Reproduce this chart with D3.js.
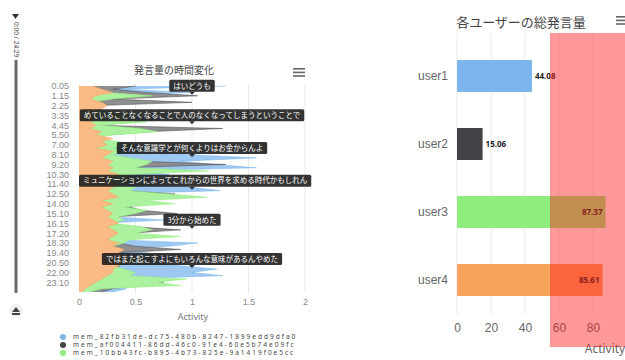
<!DOCTYPE html>
<html>
<head>
<meta charset="utf-8">
<script src="https://cdn.jsdelivr.net/npm/d3@7"></script>
<style>
  body { margin: 0; background: #fff; }
  svg { display: block; font-family: "Noto Sans", "Noto Sans CJK JP", sans-serif; }
</style>
</head>
<body>
<div id="chart"></div>
<script>
// ---- data ----
var timeTicks = ["0.05","1.15","2.25","3.35","4.45","5.50","7.00","8.10","9.20","10.30","11.40",
                 "12.50","14.00","15.10","16.15","17.20","18.30","19.40","20.50","22.00","23.10"];

// activity per user, three samples per tick label
var user1Act = [1.3,0.4,1.0,0.2,0.1,0.05,0.1,0.0,0.2,0.3, 0.8,0.3,0.1,0.2,0.1,0.05,0.05,0.1,0.4,0.9,
                0.6,1.0,1.57,0.9,1.2,1.57,0.4,0.8,0.5,0.9, 0.6,1.0,1.25,0.3,0.2,0.1,0.1,0.05,0.1,0.05,
                0.3,0.75,0.2,0.1,0.1,0.05,0.1,0.3,1.05,0.8, 0.3,0.6,0.7,0.9,0.6,0.9,1.22,1.0,1.27,0.4,
                0.3,0.2,0.42,0.3];
var user2Act = [0.5,0.3,0.6,1.05,0.3,1.0,0.15,0.05,0.3,0.45, 0.3,0.5,0.15,1.27,0.6,0.25,0.1,0.3,0.45,0.25,
                0.35,0.25,0.4,0.55,1.3,0.4,0.8,0.4,0.35,0.5, 0.25,0.45,0.4,0.85,0.6,0.5,0.5,0.45,0.55,0.87,
                0.3,0.35,0.25,0.45,0.9,0.45,0.5,0.4,0.35,0.5, 0.9,0.35,0.35,0.45,0.4,0.35,0.35,0.45,0.4,0.6,
                0.75,0.5,0.3,0.2];
var user3Act = [0.1,0.15,0.25,0.65,0.3,0.1,0.1,0.05,0.3,0.5, 0.35,0.6,0.2,0.55,0.7,0.3,0.1,0.35,0.5,0.3,
                0.4,0.3,0.45,0.65,0.6,0.5,1.15,0.5,0.4,0.55, 0.3,0.5,0.45,0.8,1.13,0.6,0.85,0.4,0.6,0.5,
                0.35,0.4,0.3,0.55,0.65,0.5,0.9,0.45,0.4,0.3, 0.2,0.3,0.4,0.5,0.45,0.3,0.4,0.5,0.45,0.95,
                0.7,0.9,0.2,0.1];
var user4Act = [0.12,0.2,0.3,0.15,0.1,0.2,0.25,0.2,0.15,0.1, 0.15,0.1,0.15,0.1,0.2,0.15,0.3,0.2,0.25,0.15,
                0.3,0.25,0.2,0.3,0.25,0.3,0.25,0.35,0.3,0.25, 0.35,0.3,0.25,0.3,0.35,0.2,0.3,0.2,0.25,0.3,
                0.25,0.3,0.35,0.25,0.3,0.35,0.3,0.25,0.35,0.3, 0.4,0.35,0.4,0.35,0.4,0.35,0.3,0.3,0.25,0.2,
                0.15,0.1,0.05,0.03];

var seriesNames = ["mem_82fb31de-dc75-480b-8247-1899edd9dfa0",
                   "mem_af004411-86dd-46c0-91e4-60e5b74e09fc",
                   "mem_10bb43fc-b895-4b73-825e-9a1419f0e5cc"];
var seriesColors = ["#7cb5ec", "#434348", "#90ed7d", "#f7a35c"];

// speech bubbles pinned at activity 1
var noteIndex = [3, 12, 22, 32, 44, 56];
var noteText = ["はいどうも",
                "めていることなくなることで人のなくなってしまうということで",
                "そんな意識学とが何くよりはお金からんよ",
                "ミュニケーションによってこれからの世界を求める時代かもしれん",
                "3分から始めた",
                "ではまた起こすよにもいろんな意味があるんやめた"];

var users = ["user1", "user2", "user3", "user4"];
var totals = [44.08, 15.06, 87.37, 85.61];
var totalTicks = [0, 20, 40, 60, 80];
var highlightRange = [54.7, 100];

var svg = d3.select("#chart").append("svg")
    .attr("width", 625)
    .attr("height", 360);

// ---- player strip on the left ----
var player = svg.append("g");
player.append("path")
    .attr("d", "M12,14 L19,14 L15.5,19 Z")
    .attr("fill", "#333");
player.append("text")
    .attr("transform", "translate(13.5,22) rotate(90)")
    .attr("font-size", "6.5px")
    .attr("fill", "#555")
    .text("0:00 / 24:29");
player.append("rect")
    .attr("x", 14.5).attr("y", 60)
    .attr("width", 3).attr("height", 233)
    .attr("fill", "#6a6a6a");
player.append("circle")
    .attr("cx", 16).attr("cy", 311).attr("r", 7)
    .attr("fill", "#f2f2f2");
player.append("path")
    .attr("d", "M12,312 L16,307 L20,312 Z M12,313 L20,313 L20,315 L12,315 Z")
    .attr("fill", "#444");

// ---- left chart: activity over time ----
var xL = d3.scaleLinear().domain([0, 2]).range([79, 305]);
var yL = d3.scaleLinear().domain([0, user1Act.length - 1]).range([86, 292]);

var left = svg.append("g");

left.append("text")
    .attr("x", 174).attr("y", 74)
    .attr("text-anchor", "middle")
    .attr("font-size", "10px")
    .attr("fill", "#444")
    .style("font-family", "'Noto Sans CJK JP', sans-serif")
    .text("発言量の時間変化");

[0, 4, 8].forEach(function(o){
    left.append("rect")
        .attr("x", 293).attr("y", 68 + o * 0.9)
        .attr("width", 12).attr("height", 1.6)
        .attr("fill", "#666");
});

left.selectAll(".gridL")
    .data(xL.ticks(4).filter(function(d){ return d > 0; }))
    .enter().append("line")
    .attr("x1", function(d){ return xL(d); })
    .attr("x2", function(d){ return xL(d); })
    .attr("y1", 84).attr("y2", 293)
    .attr("stroke", "#e9e9e9");

// each series is its own area from zero, drawn in series order
var allSeries = [user1Act, user2Act, user3Act, user4Act];

var area = d3.area()
    .x0(xL(0))
    .x1(function(d){ return xL(d); })
    .y(function(d, i){ return yL(i); });

var edge = d3.line()
    .x(function(d){ return xL(d); })
    .y(function(d, i){ return yL(i); });

allSeries.forEach(function(vals, idx){
    // 75% tint painted solid so later series stay clean on top
    var tint = d3.interpolateRgb("#fff", seriesColors[idx])(idx == 1 ? 0.6 : 0.75);
    left.append("path")
        .attr("d", area(vals))
        .attr("fill", tint);
    left.append("path")
        .attr("d", edge(vals))
        .attr("fill", "none")
        .attr("stroke", seriesColors[idx])
        .attr("stroke-opacity", 0.5)
        .attr("stroke-width", 1);
});

var yAxisL = d3.axisLeft(yL)
    .tickValues(timeTicks.map(function(d, i){ return i * 3; }))
    .tickFormat(function(d){ return timeTicks[d / 3]; })
    .tickSize(0).tickPadding(10);

var gy = left.append("g")
    .attr("transform", "translate(79,0)")
    .call(yAxisL);
gy.select(".domain").remove();
gy.selectAll("text")
    .attr("font-size", "9px")
    .attr("fill", "#888");

var xAxisL = d3.axisBottom(xL).ticks(4).tickFormat(d3.format("~g"))
    .tickSize(0).tickPadding(8);
var gx = left.append("g")
    .attr("transform", "translate(0,291)")
    .call(xAxisL);
gx.select(".domain").remove();
gx.selectAll("text")
    .attr("font-size", "9px")
    .attr("fill", "#888");

left.append("text")
    .attr("x", 193).attr("y", 320)
    .attr("text-anchor", "middle")
    .attr("font-size", "9px")
    .attr("fill", "#777")
    .text("Activity");

// speech bubbles
noteText.forEach(function(t, k){
    var tipX = xL(1), tipY = yL(noteIndex[k]);
    var g = left.append("g");
    var box = g.append("rect");
    var label = g.append("text")
        .attr("font-size", "7.5px")
        .attr("fill", "#fff")
        .style("font-family", "'Noto Sans CJK JP', sans-serif")
        .text(t);
    var w = label.node().getComputedTextLength() + 8;
    var bx = Math.max(79, Math.min(309 - w, tipX - w / 2));
    box.attr("x", bx).attr("y", tipY - 16)
        .attr("width", w).attr("height", 12)
        .attr("rx", 1.5)
        .attr("fill", "#1e1e1e").attr("fill-opacity", 0.9);
    label.attr("x", bx + 4).attr("y", tipY - 7.3);
    g.append("path")
        .attr("d", "M" + (tipX - 3) + "," + (tipY - 4) + " L" + (tipX + 3) + "," + (tipY - 4) + " L" + tipX + "," + (tipY - 1) + " Z")
        .attr("fill", "#1e1e1e").attr("fill-opacity", 0.9);
});

// legend
var legend = left.selectAll(".leg")
    .data(seriesNames)
    .enter().append("g")
    .attr("transform", function(d, i){ return "translate(63," + (337 + i * 8) + ")"; });
legend.append("circle")
    .attr("r", 3)
    .attr("fill", function(d, i){ return seriesColors[i]; });
legend.append("text")
    .attr("x", 10).attr("y", 2.3)
    .attr("font-size", "6.5px")
    .attr("letter-spacing", "2px")
    .attr("fill", "#444")
    .text(function(d){ return d; });

// ---- right chart: total per user ----
var xR = d3.scaleLinear().domain([0, 100]).range([457, 627]);
var yR = d3.scaleBand().domain(users).range([42, 314])
    .paddingInner(0.53).paddingOuter(0.265);

var right = svg.append("g");

right.append("text")
    .attr("x", 521).attr("y", 27)
    .attr("text-anchor", "middle")
    .attr("font-size", "13px")
    .attr("fill", "#444")
    .style("font-family", "'Noto Sans CJK JP', sans-serif")
    .text("各ユーザーの総発言量");

[0, 4, 8].forEach(function(o){
    right.append("rect")
        .attr("x", 616).attr("y", 16 + o * 0.9)
        .attr("width", 12).attr("height", 1.6)
        .attr("fill", "#666");
});

right.selectAll(".gridR")
    .data(totalTicks)
    .enter().append("line")
    .attr("x1", function(d){ return xR(d); })
    .attr("x2", function(d){ return xR(d); })
    .attr("y1", 33).attr("y2", 314)
    .attr("stroke", "#ececec");

right.selectAll(".bar")
    .data(totals)
    .enter().append("rect")
    .attr("x", xR(0))
    .attr("y", function(d, i){ return yR(users[i]); })
    .attr("width", function(d){ return xR(d) - xR(0); })
    .attr("height", yR.bandwidth())
    .attr("fill", function(d, i){ return seriesColors[i]; });

right.selectAll(".val")
    .data(totals)
    .enter().append("text")
    .attr("x", function(d){ return d > 60 ? xR(d) - 3 : xR(d) + 3; })
    .attr("y", function(d, i){ return yR(users[i]) + yR.bandwidth() / 2 + 3; })
    .attr("text-anchor", function(d){ return d > 60 ? "end" : "start"; })
    .attr("font-size", "8px")
    .attr("font-weight", "bold")
    .attr("fill", "#222")
    .text(function(d){ return d.toFixed(2); });

var yAxisR = d3.axisLeft(yR).tickSize(0).tickPadding(9);
var gyR = right.append("g")
    .attr("transform", "translate(" + xR(0) + ",0)")
    .call(yAxisR);
gyR.select(".domain").remove();
gyR.selectAll("text")
    .attr("font-size", "12px")
    .attr("fill", "#666");

var xAxisR = d3.axisBottom(xR).tickValues(totalTicks).tickSize(0).tickPadding(9);
var gxR = right.append("g")
    .attr("transform", "translate(0,314)")
    .call(xAxisR);
gxR.select(".domain").remove();
gxR.selectAll("text")
    .attr("font-size", "12px")
    .attr("fill", "#666");

right.append("text")
    .attr("x", 605).attr("y", 353)
    .attr("text-anchor", "middle")
    .attr("font-size", "12px")
    .attr("fill", "#666")
    .text("Activity");

// translucent highlight band drawn on top
right.append("rect")
    .attr("x", xR(highlightRange[0]))
    .attr("y", 33)
    .attr("width", xR(highlightRange[1]) - xR(highlightRange[0]))
    .attr("height", 314)
    .attr("fill", "#ff1a1a")
    .attr("fill-opacity", 0.45);
</script>
</body>
</html>
